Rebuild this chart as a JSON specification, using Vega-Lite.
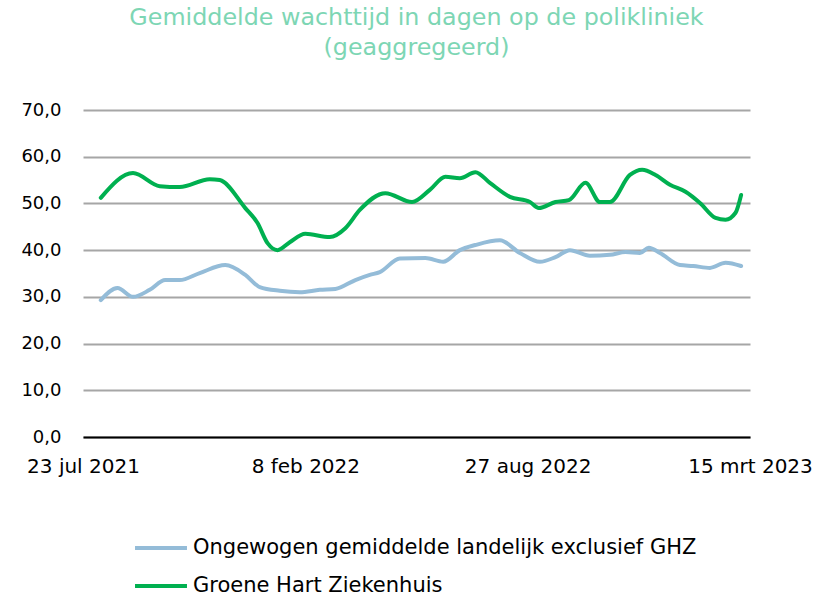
{
  "$schema": "https://vega.github.io/schema/vega-lite/v6.json",
  "width": 667,
  "height": 327,
  "autosize": "none",
  "padding": {"left": 83, "top": 110, "right": 69, "bottom": 160},
  "background": "white",
  "config": {"view": {"stroke": null}, "font": "DejaVu Sans"},
  "title": {
    "text": ["Gemiddelde wachttijd in dagen op de polikliniek", "(geaggregeerd)"],
    "anchor": "middle",
    "fontSize": 23.8,
    "fontWeight": "normal",
    "lineHeight": 30,
    "color": "#7dd6b4",
    "offset": 41,
    "font": "DejaVu Sans"
  },
  "data": {
    "values": [
      {"date": "2021-08-08T00:00", "serie": "Ongewogen gemiddelde landelijk exclusief GHZ", "v": 29.3},
      {"date": "2021-08-23T00:00", "serie": "Ongewogen gemiddelde landelijk exclusief GHZ", "v": 31.9},
      {"date": "2021-09-06T00:00", "serie": "Ongewogen gemiddelde landelijk exclusief GHZ", "v": 30.0},
      {"date": "2021-09-21T00:00", "serie": "Ongewogen gemiddelde landelijk exclusief GHZ", "v": 31.5},
      {"date": "2021-10-05T00:00", "serie": "Ongewogen gemiddelde landelijk exclusief GHZ", "v": 33.6},
      {"date": "2021-10-18T00:00", "serie": "Ongewogen gemiddelde landelijk exclusief GHZ", "v": 33.6},
      {"date": "2021-11-05T00:00", "serie": "Ongewogen gemiddelde landelijk exclusief GHZ", "v": 35.1},
      {"date": "2021-11-28T00:00", "serie": "Ongewogen gemiddelde landelijk exclusief GHZ", "v": 36.8},
      {"date": "2021-12-16T00:00", "serie": "Ongewogen gemiddelde landelijk exclusief GHZ", "v": 34.7},
      {"date": "2021-12-29T00:00", "serie": "Ongewogen gemiddelde landelijk exclusief GHZ", "v": 32.1},
      {"date": "2022-01-16T00:00", "serie": "Ongewogen gemiddelde landelijk exclusief GHZ", "v": 31.3},
      {"date": "2022-02-03T00:00", "serie": "Ongewogen gemiddelde landelijk exclusief GHZ", "v": 31.0},
      {"date": "2022-02-21T00:00", "serie": "Ongewogen gemiddelde landelijk exclusief GHZ", "v": 31.5},
      {"date": "2022-03-07T00:00", "serie": "Ongewogen gemiddelde landelijk exclusief GHZ", "v": 31.7},
      {"date": "2022-03-25T00:00", "serie": "Ongewogen gemiddelde landelijk exclusief GHZ", "v": 33.6},
      {"date": "2022-04-07T00:00", "serie": "Ongewogen gemiddelde landelijk exclusief GHZ", "v": 34.7},
      {"date": "2022-04-16T00:00", "serie": "Ongewogen gemiddelde landelijk exclusief GHZ", "v": 35.3},
      {"date": "2022-05-04T00:00", "serie": "Ongewogen gemiddelde landelijk exclusief GHZ", "v": 38.2},
      {"date": "2022-05-27T00:00", "serie": "Ongewogen gemiddelde landelijk exclusief GHZ", "v": 38.3},
      {"date": "2022-06-12T00:00", "serie": "Ongewogen gemiddelde landelijk exclusief GHZ", "v": 37.5},
      {"date": "2022-06-27T00:00", "serie": "Ongewogen gemiddelde landelijk exclusief GHZ", "v": 40.0},
      {"date": "2022-07-11T00:00", "serie": "Ongewogen gemiddelde landelijk exclusief GHZ", "v": 41.1},
      {"date": "2022-08-02T00:00", "serie": "Ongewogen gemiddelde landelijk exclusief GHZ", "v": 42.1},
      {"date": "2022-08-20T00:00", "serie": "Ongewogen gemiddelde landelijk exclusief GHZ", "v": 39.4},
      {"date": "2022-09-07T00:00", "serie": "Ongewogen gemiddelde landelijk exclusief GHZ", "v": 37.5},
      {"date": "2022-09-21T00:00", "serie": "Ongewogen gemiddelde landelijk exclusief GHZ", "v": 38.5},
      {"date": "2022-10-04T00:00", "serie": "Ongewogen gemiddelde landelijk exclusief GHZ", "v": 40.0},
      {"date": "2022-10-22T00:00", "serie": "Ongewogen gemiddelde landelijk exclusief GHZ", "v": 38.8},
      {"date": "2022-11-09T00:00", "serie": "Ongewogen gemiddelde landelijk exclusief GHZ", "v": 39.0},
      {"date": "2022-11-23T00:00", "serie": "Ongewogen gemiddelde landelijk exclusief GHZ", "v": 39.6},
      {"date": "2022-12-06T00:00", "serie": "Ongewogen gemiddelde landelijk exclusief GHZ", "v": 39.4},
      {"date": "2022-12-14T00:00", "serie": "Ongewogen gemiddelde landelijk exclusief GHZ", "v": 40.5},
      {"date": "2022-12-24T00:00", "serie": "Ongewogen gemiddelde landelijk exclusief GHZ", "v": 39.4},
      {"date": "2023-01-11T00:00", "serie": "Ongewogen gemiddelde landelijk exclusief GHZ", "v": 36.8},
      {"date": "2023-01-23T00:00", "serie": "Ongewogen gemiddelde landelijk exclusief GHZ", "v": 36.6},
      {"date": "2023-02-07T00:00", "serie": "Ongewogen gemiddelde landelijk exclusief GHZ", "v": 36.2},
      {"date": "2023-02-21T00:00", "serie": "Ongewogen gemiddelde landelijk exclusief GHZ", "v": 37.3},
      {"date": "2023-03-07T00:00", "serie": "Ongewogen gemiddelde landelijk exclusief GHZ", "v": 36.6},
      {"date": "2021-08-08T00:00", "serie": "Groene Hart Ziekenhuis", "v": 51.2},
      {"date": "2021-09-06T00:00", "serie": "Groene Hart Ziekenhuis", "v": 56.5},
      {"date": "2021-09-30T00:00", "serie": "Groene Hart Ziekenhuis", "v": 53.7},
      {"date": "2021-10-18T00:00", "serie": "Groene Hart Ziekenhuis", "v": 53.5},
      {"date": "2021-11-14T00:00", "serie": "Groene Hart Ziekenhuis", "v": 55.2},
      {"date": "2021-11-23T00:00", "serie": "Groene Hart Ziekenhuis", "v": 55.0},
      {"date": "2021-12-16T00:00", "serie": "Groene Hart Ziekenhuis", "v": 49.0},
      {"date": "2021-12-27T00:00", "serie": "Groene Hart Ziekenhuis", "v": 45.8},
      {"date": "2022-01-05T00:00", "serie": "Groene Hart Ziekenhuis", "v": 41.5},
      {"date": "2022-01-14T00:00", "serie": "Groene Hart Ziekenhuis", "v": 40.0},
      {"date": "2022-01-25T00:00", "serie": "Groene Hart Ziekenhuis", "v": 41.7},
      {"date": "2022-02-08T00:00", "serie": "Groene Hart Ziekenhuis", "v": 43.5},
      {"date": "2022-03-02T00:00", "serie": "Groene Hart Ziekenhuis", "v": 42.8},
      {"date": "2022-03-16T00:00", "serie": "Groene Hart Ziekenhuis", "v": 44.7},
      {"date": "2022-03-29T00:00", "serie": "Groene Hart Ziekenhuis", "v": 48.6},
      {"date": "2022-04-21T00:00", "serie": "Groene Hart Ziekenhuis", "v": 52.2},
      {"date": "2022-05-15T00:00", "serie": "Groene Hart Ziekenhuis", "v": 50.3},
      {"date": "2022-05-31T00:00", "serie": "Groene Hart Ziekenhuis", "v": 52.9},
      {"date": "2022-06-14T00:00", "serie": "Groene Hart Ziekenhuis", "v": 55.7},
      {"date": "2022-06-27T00:00", "serie": "Groene Hart Ziekenhuis", "v": 55.4},
      {"date": "2022-07-11T00:00", "serie": "Groene Hart Ziekenhuis", "v": 56.7},
      {"date": "2022-07-24T00:00", "serie": "Groene Hart Ziekenhuis", "v": 54.4},
      {"date": "2022-08-11T00:00", "serie": "Groene Hart Ziekenhuis", "v": 51.4},
      {"date": "2022-08-29T00:00", "serie": "Groene Hart Ziekenhuis", "v": 50.3},
      {"date": "2022-09-06T00:00", "serie": "Groene Hart Ziekenhuis", "v": 49.0},
      {"date": "2022-09-21T00:00", "serie": "Groene Hart Ziekenhuis", "v": 50.3},
      {"date": "2022-10-03T00:00", "serie": "Groene Hart Ziekenhuis", "v": 50.7},
      {"date": "2022-10-18T00:00", "serie": "Groene Hart Ziekenhuis", "v": 54.4},
      {"date": "2022-10-31T00:00", "serie": "Groene Hart Ziekenhuis", "v": 50.3},
      {"date": "2022-11-09T00:00", "serie": "Groene Hart Ziekenhuis", "v": 50.3},
      {"date": "2022-11-27T00:00", "serie": "Groene Hart Ziekenhuis", "v": 56.1},
      {"date": "2022-12-08T00:00", "serie": "Groene Hart Ziekenhuis", "v": 57.2},
      {"date": "2022-12-20T00:00", "serie": "Groene Hart Ziekenhuis", "v": 56.1},
      {"date": "2023-01-02T00:00", "serie": "Groene Hart Ziekenhuis", "v": 54.0},
      {"date": "2023-01-16T00:00", "serie": "Groene Hart Ziekenhuis", "v": 52.5},
      {"date": "2023-01-29T00:00", "serie": "Groene Hart Ziekenhuis", "v": 50.1},
      {"date": "2023-02-12T00:00", "serie": "Groene Hart Ziekenhuis", "v": 46.9},
      {"date": "2023-02-21T00:00", "serie": "Groene Hart Ziekenhuis", "v": 46.5},
      {"date": "2023-03-02T00:00", "serie": "Groene Hart Ziekenhuis", "v": 48.0},
      {"date": "2023-03-07T00:00", "serie": "Groene Hart Ziekenhuis", "v": 51.8}
    ]
  },
  "mark": {"type": "line", "interpolate": "monotone", "strokeWidth": 4, "strokeCap": "round", "strokeJoin": "round"},
  "encoding": {
    "x": {
      "field": "date",
      "type": "temporal",
      "scale": {"domain": [{"year": 2021, "month": 7, "date": 23}, {"year": 2023, "month": 3, "date": 15}]},
      "axis": {
        "title": null,
        "grid": false,
        "ticks": false,
        "domainColor": "#000000",
        "domainWidth": 2,
        "labelFontSize": 20,
        "labelColor": "#000000",
        "labelPadding": 19,
        "labelFont": "DejaVu Sans",
        "values": [
          {"year": 2021, "month": 7, "date": 23},
          {"year": 2022, "month": 2, "date": 8},
          {"year": 2022, "month": 8, "date": 27},
          {"year": 2023, "month": 3, "date": 15}
        ],
        "labelExpr": "date(datum.value) + ' ' + ['jan','feb','mrt','apr','mei','jun','jul','aug','sep','okt','nov','dec'][month(datum.value)] + ' ' + year(datum.value)",
        "labelOverlap": false,
        "labelFlush": false
      }
    },
    "y": {
      "field": "v",
      "type": "quantitative",
      "scale": {"domain": [0, 70]},
      "axis": {
        "title": null,
        "domain": false,
        "ticks": false,
        "values": [0, 10, 20, 30, 40, 50, 60, 70],
        "gridColor": "#a6a6a6",
        "gridWidth": 2,
        "labelFontSize": 18,
        "labelColor": "#000000",
        "labelPadding": 22,
        "labelFont": "DejaVu Sans",
        "labelExpr": "replace(format(datum.value, '.1f'), '.', ',')"
      }
    },
    "color": {
      "field": "serie",
      "type": "nominal",
      "sort": ["Ongewogen gemiddelde landelijk exclusief GHZ", "Groene Hart Ziekenhuis"],
      "scale": {"domain": ["Ongewogen gemiddelde landelijk exclusief GHZ", "Groene Hart Ziekenhuis"], "range": ["#94bcd8", "#00b050"]},
      "legend": {
        "title": null,
        "orient": "none",
        "legendX": 50,
        "legendY": 410,
        "symbolType": "stroke",
        "symbolSize": 2700,
        "symbolStrokeWidth": 4,
        "labelFontSize": 21,
        "labelColor": "#000000",
        "labelFont": "DejaVu Sans",
        "labelOffset": 4,
        "rowPadding": -15,
        "labelLimit": 700
      }
    }
  }
}
